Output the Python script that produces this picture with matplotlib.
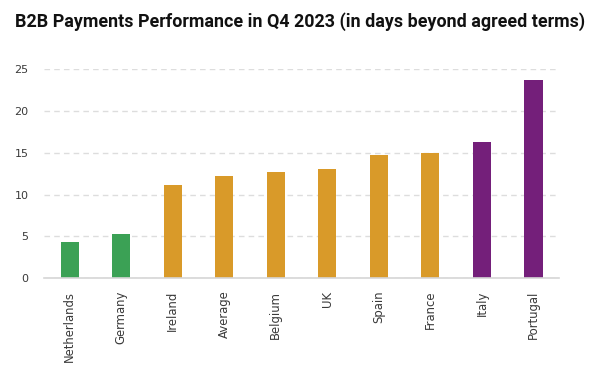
import matplotlib
matplotlib.use("Agg")
from matplotlib import pyplot as plt

# Data
countries = ["Netherlands", "Germany", "Ireland", "Average", "Belgium",
             "UK", "Spain", "France", "Italy", "Portugal"]
days = [4.3, 5.3, 11.2, 12.2, 12.7, 13.1, 14.7, 15.0, 16.3, 23.7]
groups = ["good", "good", "mid", "mid", "mid", "mid", "mid", "mid", "bad", "bad"]
yticks = [0, 5, 10, 15, 20, 25]

palette = {"good": "#3ba155", "mid": "#d99a29", "bad": "#741f7a"}
colors = [palette[g] for g in groups]

fig = plt.figure(figsize=(6.02, 3.76), dpi=100)
ax = fig.add_axes([0.073, 0.26, 0.856, 0.556])

xs = list(range(len(countries)))
ax.bar(xs, days, width=0.35, color=colors, zorder=3)

ax.set_xlim(-0.5, len(countries) - 0.5)
ax.set_ylim(0, 25)
ax.set_yticks(yticks)
ax.set_xticks(xs)
ax.set_xticklabels(countries, rotation=90, family="DejaVu Sans",
                   fontsize=8.4, color="#3a3a3a")
ax.set_yticklabels([str(t) for t in yticks], family="DejaVu Sans",
                   fontsize=8, color="#3a3a3a")
ax.tick_params(length=0, axis="both")
ax.tick_params(axis="y", pad=11)
ax.tick_params(axis="x", pad=9)

ax.grid(axis="y", linestyle=(0, (4, 3)), color="#dddddd", linewidth=1, zorder=0)
for side in ["top", "right", "left"]:
    ax.spines[side].set_visible(False)
ax.spines["bottom"].set_color("#d6d6d6")
ax.spines["bottom"].set_linewidth(1.2)
ax.spines["bottom"].set_zorder(4)

fig.text(15 / 602, 1 - 22 / 376, "B2B Payments Performance in Q4 2023 (in days beyond agreed terms)",
         family="Roboto", weight="bold", fontsize=12.9, color="#111111", va="center", ha="left")

fig.savefig("out.png", dpi=100)
